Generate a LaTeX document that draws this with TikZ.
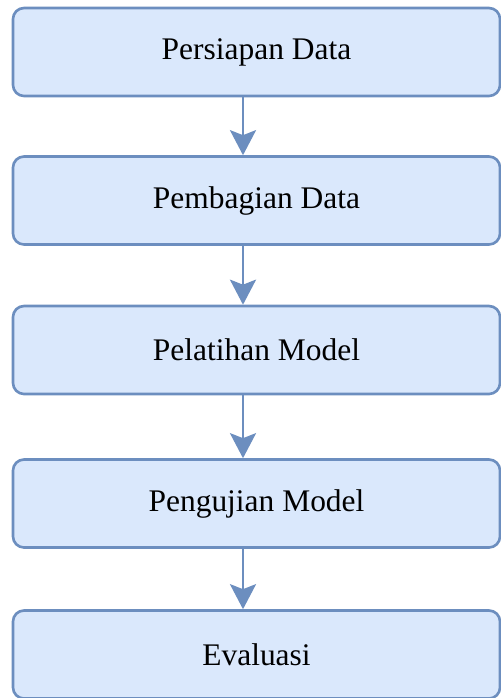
\documentclass[tikz,border=0pt]{standalone}
\usepackage{fontspec}
\setmainfont{Liberation Serif}
\usetikzlibrary{arrows.meta, positioning}

\definecolor{boxfill}{HTML}{DAE8FC}
\definecolor{boxline}{HTML}{6C8EBF}

\begin{document}
\begin{tikzpicture}[
    stepbox/.style={rectangle, draw=boxline, fill=boxfill, line width=1.5pt, rounded corners=0.22cm, text centered, minimum height=1.76cm, minimum width=9.74cm, font=\fontsize{17.9}{21}\selectfont},
    arrow/.style={-{Stealth[length=0.5cm, width=0.52cm, inset=0.1cm]}, draw=boxline, fill=boxline, line width=1.6pt},
]

%Background
\useasboundingbox (0, 0) rectangle (10.02, -13.96);
\fill[white] (0, 0) rectangle (10.02, -13.96);

% Steps
\node[stepbox] (persiapan_data) at (5.13, -1.04) {Persiapan Data};
\node[stepbox] (pembagian_data) at (5.13, -4.01) {Pembagian Data};
\node[stepbox] (pelatihan_model) at (5.13, -7.00) {Pelatihan Model};
\node[stepbox] (pengujian_model) at (5.13, -10.07) {Pengujian Model};
\node[stepbox] (evaluasi) at (5.13, -13.09) {Evaluasi};

% Arrows
\draw[arrow] ([xshift=-0.27cm]persiapan_data.south) -- ([xshift=-0.27cm]pembagian_data.north);
\draw[arrow] ([xshift=-0.27cm]pembagian_data.south) -- ([xshift=-0.27cm]pelatihan_model.north);
\draw[arrow] ([xshift=-0.27cm]pelatihan_model.south) -- ([xshift=-0.27cm]pengujian_model.north);
\draw[arrow] ([xshift=-0.27cm]pengujian_model.south) -- ([xshift=-0.27cm]evaluasi.north);

\end{tikzpicture}
\end{document}
